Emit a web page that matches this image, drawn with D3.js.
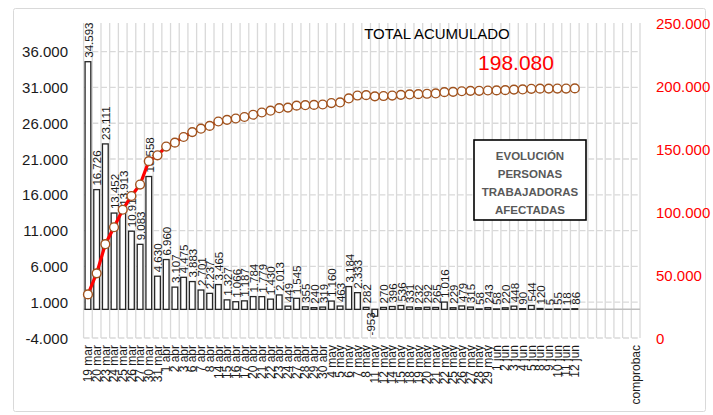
<!DOCTYPE html>
<html>
<head>
<meta charset="utf-8">
<script src="https://cdn.jsdelivr.net/npm/d3@7"></script>
<style>
  body { margin: 0; background: #fff; }
  svg { display: block; font-family: "Liberation Sans", Arial, sans-serif; }
</style>
</head>
<body>
<svg id="chart" width="713" height="415"></svg>
<script>
// working days shown on the x axis
const fechas = [
  "19 mar", "20 mar", "23 mar", "24 mar", "25 mar", "26 mar", "27 mar", "30 mar", "31 mar",
  "1 abr", "2 abr", "3 abr", "6 abr", "7 abr", "8 abr", "14 abr", "15 abr", "16 abr", "17 abr",
  "20 abr", "21 abr", "22 abr", "23 abr", "24 abr", "27 abr", "28 abr", "29 abr", "30 abr",
  "4 may", "5 may", "6 may", "7 may", "8 may", "11 may", "12 may", "14 may", "15 may", "18 may",
  "19 may", "20 may", "21 may", "22 may", "25 may", "26 may", "27 may", "28 may", "29 may",
  "1 jun", "2 jun", "3 jun", "4 jun", "5 jun", "8 jun", "9 jun", "10 jun", "11 jun", "12 jun"
]
const extraLabels = ["", "", "", "", "", "", "comprobac"]

// personas afectadas por día
const afectadas = [
  34593, 16726, 23111, 13452, 13913, 10917, 9083, 18558, 4630,
  6960, 3107, 4475, 3883, 2701, 2237, 3465, 1327, 1066, 1187,
  1784, 1779, 1430, 2013, 449, 1545, 355, 240, 319,
  1160, 463, 3184, 2333, 282, -953, 270, 396, 536, 331,
  232, 292, 265, 1016, 229, 479, 315, 58, 243,
  58, 220, 448, 90, 544, 120, 5, 55, 18, 86
]

const leftTicks = d3.range(-4000, 36001, 5000)
const rightTicks = d3.range(0, 250001, 50000)
const legendLines = ["EVOLUCIÓN", "PERSONAS", "TRABAJADORAS", "AFECTADAS"]

const svg = d3.select("#chart")

const es = d3.formatLocale({decimal: ",", thousands: ".", grouping: [3], currency: ["", " €"], minus: "-"})
const fmt = es.format(",d")

const allLabels = fechas.concat(extraLabels)
const acumulado = d3.cumsum(afectadas)

const plotLeft = 83.6, plotRight = 640, plotTop = 23, plotBottom = 338

const x = d3.scaleBand()
    .domain(d3.range(allLabels.length))
    .range([plotLeft, plotRight])
    .paddingInner(0.34)
    .paddingOuter(0.17)

const step = x.step()
const cx = i => x(i) + x.bandwidth() / 2

const yLeft = d3.scaleLinear()
    .domain([-4000, 40000])
    .range([plotBottom, plotTop])

const yRight = d3.scaleLinear()
    .domain([0, 250000])
    .range([plotBottom, plotTop])

// outer frame
svg.append("rect")
    .attr("x", 13.5).attr("y", 8.5)
    .attr("width", 692).attr("height", 403)
    .attr("rx", 2)
    .attr("fill", "none")
    .attr("stroke", "#d9d9d9")

// vertical gridlines (category boundaries)
svg.append("g")
  .selectAll("line")
  .data(d3.range(allLabels.length + 1))
  .join("line")
    .attr("x1", i => plotLeft + i * step)
    .attr("x2", i => plotLeft + i * step)
    .attr("y1", plotTop)
    .attr("y2", plotBottom)
    .attr("stroke", "#d9d9d9")
    .attr("stroke-width", 1.3)

// horizontal gridlines
svg.append("g")
  .selectAll("line")
  .data(leftTicks)
  .join("line")
    .attr("x1", plotLeft)
    .attr("x2", plotRight)
    .attr("y1", d => yLeft(d))
    .attr("y2", d => yLeft(d))
    .attr("stroke", "#d9d9d9")
    .attr("stroke-width", 1.3)
    .attr("stroke-dasharray", "6,2.7")

// zero line
svg.append("line")
    .attr("x1", plotLeft).attr("x2", plotRight)
    .attr("y1", yLeft(0)).attr("y2", yLeft(0))
    .attr("stroke", "#bfbfbf")
    .attr("stroke-width", 1.5)

// left axis labels
svg.append("g")
  .selectAll("text")
  .data(leftTicks)
  .join("text")
    .attr("x", 68)
    .attr("y", d => yLeft(d) + 5.5)
    .attr("text-anchor", "end")
    .attr("font-size", "15px")
    .attr("fill", "#1a1a1a")
    .text(d => fmt(d))

// right axis labels
svg.append("g")
  .selectAll("text")
  .data(rightTicks)
  .join("text")
    .attr("x", 656)
    .attr("y", d => yRight(d) + 5.5)
    .attr("font-size", "15px")
    .attr("fill", "#ff0000")
    .text(d => fmt(d))

// bars
svg.append("g")
  .selectAll("rect")
  .data(afectadas)
  .join("rect")
    .attr("x", (d, i) => x(i))
    .attr("y", d => yLeft(Math.max(d, 0)))
    .attr("width", x.bandwidth())
    .attr("height", d => Math.abs(yLeft(d) - yLeft(0)))
    .attr("fill", "#fff")
    .attr("stroke", "#262626")
    .attr("stroke-width", 1.3)

// bar labels
svg.append("g")
  .selectAll("text")
  .data(afectadas)
  .join("text")
    .attr("transform", (d, i) => {
        const ty = d >= 0 ? yLeft(d) - 4 : yLeft(0) + 3
        const tx = d >= 0 ? cx(i) + 0.8 : cx(i) - 3.5
        return `translate(${tx},${ty}) rotate(-90)`
    })
    .attr("text-anchor", d => d >= 0 ? "start" : "end")
    .attr("dy", "0.35em")
    .attr("font-size", "11.5px")
    .attr("fill", "#1a1a1a")
    .text(d => fmt(d))

// cumulative line
const line = d3.line()
    .x((d, i) => cx(i))
    .y(d => yRight(d))

svg.append("path")
    .datum(acumulado)
    .attr("d", line)
    .attr("fill", "none")
    .attr("stroke", "#ff0000")
    .attr("stroke-width", 3.2)

svg.append("g")
  .selectAll("circle")
  .data(acumulado)
  .join("circle")
    .attr("cx", (d, i) => cx(i))
    .attr("cy", d => yRight(d))
    .attr("r", 4.4)
    .attr("fill", "#fff")
    .attr("stroke", "#a0521d")
    .attr("stroke-width", 1.4)

// x axis labels
svg.append("g")
  .selectAll("text")
  .data(allLabels)
  .join("text")
    .attr("transform", (d, i) => `translate(${cx(i)},345) rotate(-90)`)
    .attr("text-anchor", "end")
    .attr("dy", "0.35em")
    .attr("font-size", "12px")
    .attr("fill", "#1a1a1a")
    .text(d => d)

// titles
svg.append("text")
    .attr("x", 437)
    .attr("y", 39)
    .attr("text-anchor", "middle")
    .attr("font-size", "15px")
    .attr("fill", "#000")
    .text("TOTAL ACUMULADO")

svg.append("text")
    .attr("x", 516)
    .attr("y", 70)
    .attr("text-anchor", "middle")
    .attr("font-size", "21px")
    .attr("fill", "#ff0000")
    .text(fmt(acumulado[acumulado.length - 1]))

// legend box
const legend = svg.append("g")
legend.append("rect")
    .attr("x", 474).attr("y", 140)
    .attr("width", 112).attr("height", 80)
    .attr("fill", "#fff")
    .attr("stroke", "#000")
    .attr("stroke-width", 1.6)

legend.selectAll("text")
  .data(legendLines)
  .join("text")
    .attr("x", 530)
    .attr("y", (d, i) => 160 + i * 18)
    .attr("text-anchor", "middle")
    .attr("font-size", "11.5px")
    .attr("font-weight", "bold")
    .attr("fill", "#595959")
    .text(d => d)
</script>
</body>
</html>
